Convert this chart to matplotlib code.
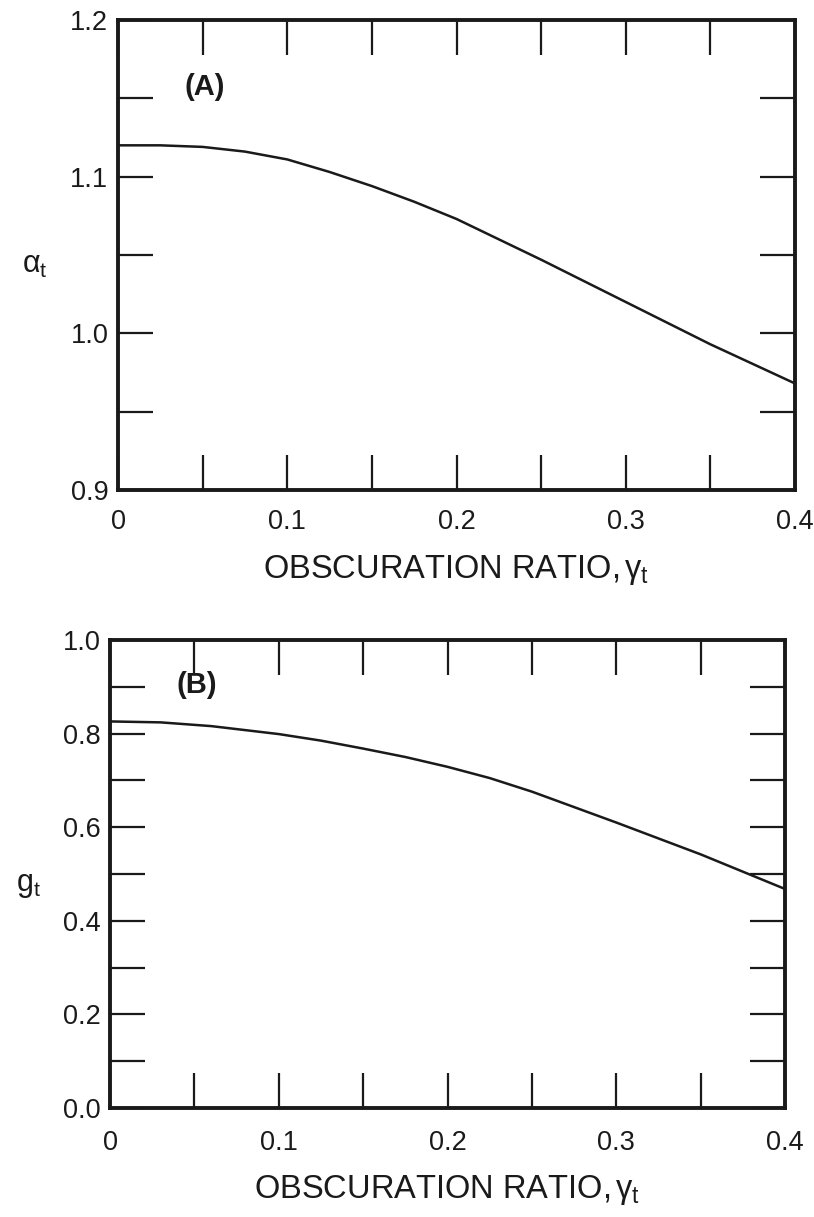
import matplotlib
matplotlib.use("Agg")
import matplotlib.pyplot as plt
from matplotlib.ticker import MultipleLocator

plt.rcParams['font.family'] = ['Liberation Sans', 'DejaVu Sans']
plt.rcParams['mathtext.fontset'] = 'custom'
plt.rcParams['mathtext.rm'] = 'Liberation Sans'
plt.rcParams['mathtext.it'] = 'Liberation Sans'
plt.rcParams['mathtext.bf'] = 'Liberation Sans:bold'

# ---- data ----
gamma_a = [0.0, 0.025, 0.05, 0.075, 0.1, 0.125, 0.15, 0.175, 0.2, 0.25, 0.3, 0.35, 0.4]
alpha_t = [1.120, 1.120, 1.119, 1.116, 1.111, 1.103, 1.094, 1.084, 1.073, 1.047, 1.020, 0.993, 0.968]

gamma_b = [0.0, 0.03, 0.06, 0.1, 0.125, 0.15, 0.175, 0.2, 0.225, 0.25, 0.3, 0.35, 0.4]
g_t = [0.826, 0.824, 0.816, 0.799, 0.785, 0.768, 0.750, 0.729, 0.705, 0.676, 0.610, 0.542, 0.468]

x_ticks = [0, 0.1, 0.2, 0.3, 0.4]
x_tick_labels = ['0', '0.1', '0.2', '0.3', '0.4']
a_ticks = [0.9, 1.0, 1.1, 1.2]
a_tick_labels = ['0.9', '1.0', '1.1', '1.2']
b_ticks = [0.0, 0.2, 0.4, 0.6, 0.8, 1.0]
b_tick_labels = ['0.0', '0.2', '0.4', '0.6', '0.8', '1.0']

W, H = 814, 1217
fig = plt.figure(figsize=(W / 100, H / 100), dpi=100)
ink = '#1a1a1a'


def px_axes(l, r, t, b):
    return fig.add_axes([l / W, 1 - b / H, (r - l) / W, (b - t) / H])


def style(ax, xminor, yminor, xpad):
    for s in ax.spines.values():
        s.set_linewidth(2.8)
        s.set_color(ink)
    ax.xaxis.set_minor_locator(MultipleLocator(xminor))
    ax.yaxis.set_minor_locator(MultipleLocator(yminor))
    ax.tick_params(which='both', direction='in', top=True, right=True,
                   length=25, width=1.6, color=ink)
    ax.tick_params(axis='x', which='major', pad=xpad, labelsize=19.5, labelcolor=ink)
    ax.tick_params(axis='y', which='major', pad=7, labelsize=19.5, labelcolor=ink)


xlab = r'OBSCURATION RATIO,$\,\gamma_{\mathrm{t}}$'

# ---- panel A ----
axA = px_axes(118, 795, 20, 490)
axA.plot(gamma_a, alpha_t, color=ink, lw=1.8)
axA.set_xlim(0, 0.4)
axA.set_ylim(0.9, 1.2)
axA.set_xticks(x_ticks)
axA.set_xticklabels(x_tick_labels)
axA.set_yticks(a_ticks)
axA.set_yticklabels(a_tick_labels)
style(axA, 0.05, 0.05, 14)
axA.text(0.128, 0.857, '(A)', transform=axA.transAxes, ha='center', va='center',
         fontsize=21, fontweight='bold', color=ink)
axA.text(-0.123, 0.479, r'$\alpha_{\mathrm{t}}$', transform=axA.transAxes,
         ha='center', va='center', fontsize=22, color=ink)
axA.text(0.5, -0.187, xlab, transform=axA.transAxes,
         ha='center', va='baseline', fontsize=23.5, color=ink)

# ---- panel B ----
axB = px_axes(110, 785, 640, 1108)
axB.plot(gamma_b, g_t, color=ink, lw=1.8)
axB.set_xlim(0, 0.4)
axB.set_ylim(0.0, 1.0)
axB.set_xticks(x_ticks)
axB.set_xticklabels(x_tick_labels)
axB.set_yticks(b_ticks)
axB.set_yticklabels(b_tick_labels)
style(axB, 0.05, 0.1, 16)
axB.text(0.129, 0.904, '(B)', transform=axB.transAxes, ha='center', va='center',
         fontsize=21, fontweight='bold', color=ink)
axB.text(-0.121, 0.476, r'$\mathrm{g}_{\mathrm{t}}$', transform=axB.transAxes,
         ha='center', va='center', fontsize=22, color=ink)
axB.text(0.5, -0.192, xlab, transform=axB.transAxes,
         ha='center', va='baseline', fontsize=23.5, color=ink)

fig.savefig('out.png', dpi=100)
